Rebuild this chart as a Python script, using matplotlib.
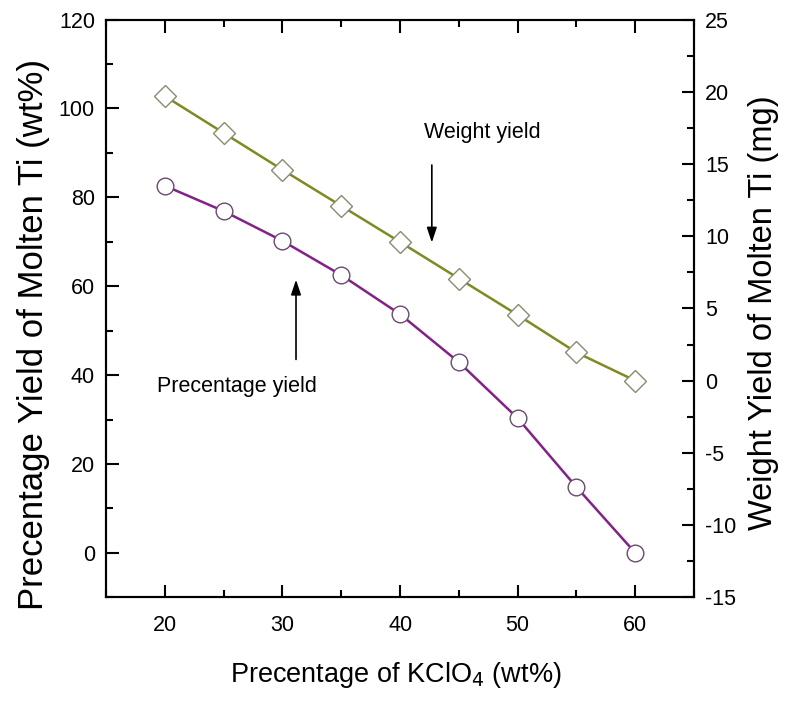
import matplotlib
matplotlib.use('Agg')
import numpy as np
import matplotlib.pyplot as plt
from matplotlib.ticker import MultipleLocator

plt.rcParams['font.family'] = ['Liberation Sans', 'DejaVu Sans']
plt.rcParams['axes.unicode_minus'] = False

# KClO4 content (wt%)
kclo4 = [20, 25, 30, 35, 40, 45, 50, 55, 60]
# percentage yield of molten Ti (wt%), left axis
pct_yield = [82.6, 76.9, 70.2, 62.5, 53.7, 42.9, 30.3, 14.8, 0.0]
# weight yield of molten Ti (mg), right axis
weight_yield = [19.7, 17.15, 14.6, 12.1, 9.6, 7.07, 4.55, 1.95, 0.0]

purple = '#84208a'
olive = '#7f8a20'

fig = plt.figure(figsize=(7.86, 7.01), dpi=100)
ax = fig.add_axes([0.135, 0.148, 0.748, 0.824])
ax2 = ax.twinx()

ax.plot(kclo4, pct_yield, color=purple, lw=1.8, marker='o', ms=12,
        mfc='white', mec='#6a4a70', mew=1.0, zorder=3)
ax2.plot(kclo4, weight_yield, color=olive, lw=1.8, marker='D', ms=11,
         mfc='white', mec='#8a8a70', mew=1.0, zorder=3)

ax.set_xlim(15, 65)
ax.set_ylim(-10, 120)
ax2.set_ylim(-15, 25)

ax.xaxis.set_major_locator(MultipleLocator(10))
ax.xaxis.set_minor_locator(MultipleLocator(5))
ax.yaxis.set_major_locator(MultipleLocator(20))
ax.yaxis.set_minor_locator(MultipleLocator(10))
ax2.yaxis.set_major_locator(MultipleLocator(5))
ax2.yaxis.set_minor_locator(MultipleLocator(2.5))

ax.tick_params(which='both', direction='in', top=True, labelsize=15.5, width=1.5)
ax.tick_params(which='major', length=9)
ax.tick_params(which='minor', length=5)
ax.tick_params(axis='x', pad=13)
ax.tick_params(axis='y', pad=8)
ax2.tick_params(which='both', direction='in', labelsize=15.5, width=1.5, pad=8)
ax2.tick_params(which='major', length=9)
ax2.tick_params(which='minor', length=5)
for a in (ax, ax2):
    for s in a.spines.values():
        s.set_linewidth(1.5)

ax.set_xlabel('Precentage of KClO$_4$ (wt%)', fontsize=19.5)
ax.xaxis.set_label_coords(0.493, -0.108)
ax.set_ylabel('Precentage Yield of Molten Ti (wt%)', fontsize=25)
ax.yaxis.set_label_coords(-0.095, 0.455)
ax2.set_ylabel('Weight Yield of Molten Ti (mg)', fontsize=23.5)
ax2.yaxis.set_label_coords(1.092, 0.493)

ax.text(47.0, 94.7, 'Weight yield', fontsize=15.5, ha='center', va='center')
ax.annotate('', xy=(42.7, 69.2), xytext=(42.7, 87.9),
            arrowprops=dict(arrowstyle='-|>,head_length=0.6,head_width=0.2',
                            color='black', lw=1.2, mutation_scale=15))
ax.text(26.1, 37.5, 'Precentage yield', fontsize=15.5, ha='center', va='center')
ax.annotate('', xy=(31.15, 62.1), xytext=(31.15, 42.9),
            arrowprops=dict(arrowstyle='-|>,head_length=0.6,head_width=0.2',
                            color='black', lw=1.2, mutation_scale=15))

fig.savefig('out.png', dpi=100)
